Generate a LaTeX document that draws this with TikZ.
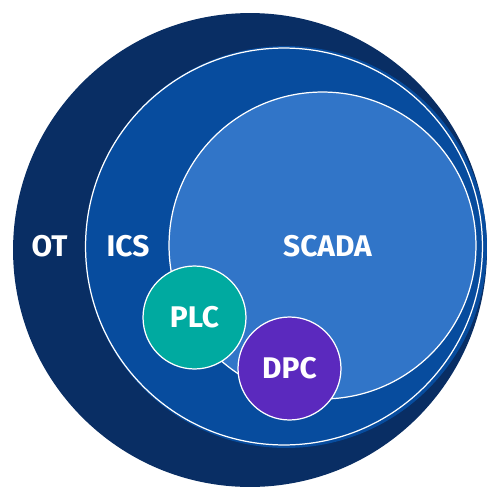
\documentclass[tikz,border=0pt]{standalone}
\usepackage{fontspec}
\setsansfont{Fira Sans}
\definecolor{otblue}{RGB}{9,46,100}
\definecolor{icsblue}{RGB}{7,76,158}
\definecolor{scadablue}{RGB}{49,117,200}
\definecolor{plcteal}{RGB}{0,170,160}
\definecolor{dpcpurple}{RGB}{91,41,190}

\tikzset{
  disc/.style={circle, inner sep=0pt, draw=white, line width=0.7pt},
  lbl/.style={text=white, font=\sffamily\bfseries\fontsize{17}{17}\selectfont},
}

\begin{document}
\begin{tikzpicture}[x=0.02cm, y=-0.02cm]
          \useasboundingbox (0,0) rectangle (501,501);
          % nested rings
          \node[disc, draw=none, fill=otblue, minimum size=9.48cm] (ot) at (250,250) {};
          \fill[icsblue] (286,247) circle (4.02cm);
          \node[disc, fill=icsblue, minimum size=7.94cm] (ics) at (284,246.5) {};
          \node[disc, fill=scadablue, minimum size=6.14cm] (scada) at (322.5,245.5) {};

          % small discs
          \node[disc, fill=plcteal, minimum size=2.06cm, lbl] (plc) at (194.5,317.5) {PLC};
          \node[disc, fill=dpcpurple, minimum size=2.06cm, lbl] (dpc) at (289.5,368.5) {DPC};

          % labels
          \node[lbl] (otname) at (49.5,246.5) {OT};
          \node[lbl] (icsname) at (128,246.5) {ICS};
          \node[lbl] (scadaname) at (327.5,246.5) {SCADA};
\end{tikzpicture}
\end{document}
